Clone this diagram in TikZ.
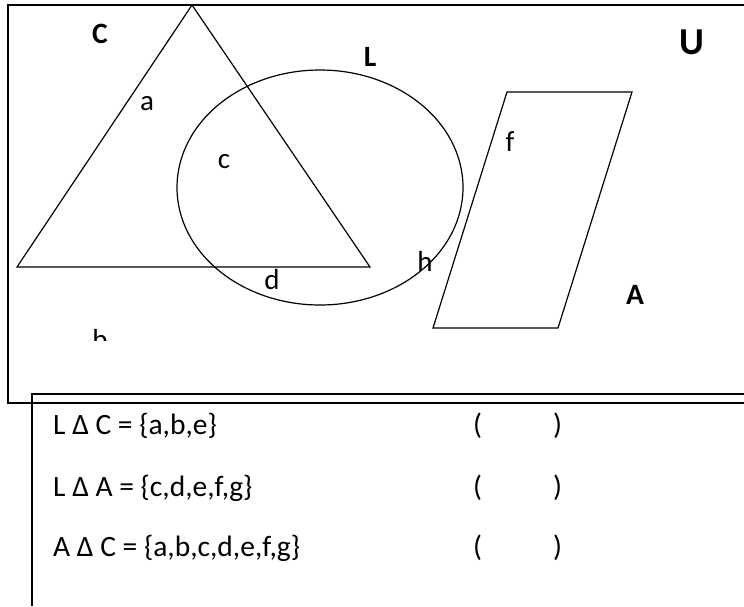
\documentclass[tikz,border=0pt]{standalone}
\usepackage{fontspec}
\setmainfont{Carlito}
\begin{document}
\begin{tikzpicture}[x=1pt,y=-1pt,
  shapeline/.style={line width=1.2pt},
  frameline/.style={line width=1.6pt},
  lbl/.style={inner sep=0pt,anchor=base,font=\fontsize{29}{35}\selectfont},
  blbl/.style={inner sep=0pt,anchor=base,font=\fontsize{29.5}{35}\selectfont\bfseries},
  rowtext/.style={inner sep=0pt,anchor=base west,font=\fontsize{29.5}{35}\selectfont}]
\useasboundingbox (0,0) rectangle (744,606);
\fill[white] (0,0) rectangle (744,606);
% universe frame
\draw[frameline] (744,5) -- (8,5) -- (8,403) -- (744,403);
% table frame
\draw[frameline] (744,394) -- (32,394) -- (32,606);
% set C: triangle
\draw[shapeline] (192,5) -- (17,267) -- (370,267) -- cycle;
% set L: ellipse
\draw[shapeline] (320,187.5) ellipse [x radius=143, y radius=117.5];
% set A: parallelogram
\draw[shapeline] (507,92) -- (632,92) -- (558,328) -- (433,328) -- cycle;
% labels
\node[blbl] (lC) at (100,43) {C};
\node[blbl] (lL) at (370,66) {L};
\node[blbl,font=\fontsize{38}{44}\selectfont\bfseries] (lU) at (692,54) {U};
\node[blbl] (lA) at (635,304) {A};
\node[lbl] (ea) at (147,110) {a};
\node[lbl] (ec) at (224,168) {c};
\node[lbl] (ed) at (272,289) {d};
\node[lbl] (ef) at (510,151) {f};
\node[lbl] (eh) at (425,271) {h};
\begin{scope}
\clip (60,300) rectangle (140,340);
\node[lbl] (eb) at (100,349) {b};
\end{scope}
% statements
\node[rowtext] (r1) at (53,434) {L Δ C = \{a,b,e\}};
\node[rowtext] (r2) at (53,496) {L Δ A = \{c,d,e,f,g\}};
\node[rowtext] (r3) at (53,556) {A Δ C = \{a,b,c,d,e,f,g\}};
\node[rowtext] (p1) at (473,434) {(};
\node[rowtext] (q1) at (553,434) {)};
\node[rowtext] (p2) at (473,496) {(};
\node[rowtext] (q2) at (553,496) {)};
\node[rowtext] (p3) at (473,556) {(};
\node[rowtext] (q3) at (553,556) {)};
\end{tikzpicture}
\end{document}
